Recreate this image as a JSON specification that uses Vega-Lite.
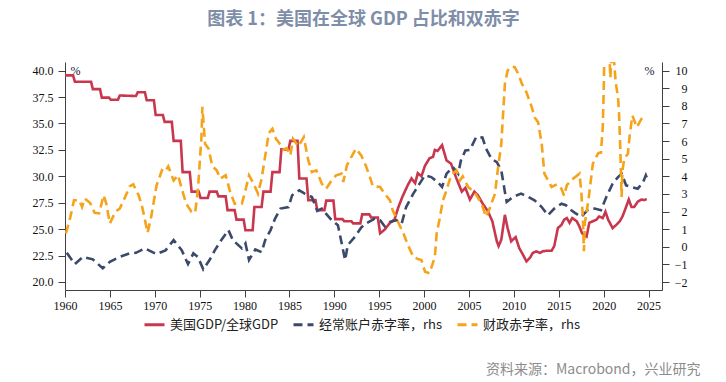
{
  "$schema": "https://vega.github.io/schema/vega-lite/v6.json",
  "width": 597,
  "height": 228,
  "autosize": "none",
  "padding": {"left": 65, "top": 62, "right": 64, "bottom": 92},
  "title": {
    "text": "图表 1：美国在全球 GDP 占比和双赤字",
    "anchor": "middle",
    "font": "Noto Sans CJK SC",
    "fontSize": 18,
    "fontWeight": "bold",
    "color": "#7f8ea8",
    "offset": 33
  },
  "datasets": {
    "gdp": [
      {"s": "美国GDP/全球GDP", "t": 1960.0, "v": 39.55},
      {"s": "美国GDP/全球GDP", "t": 1960.9, "v": 39.55},
      {"s": "美国GDP/全球GDP", "t": 1961.1, "v": 38.95},
      {"s": "美国GDP/全球GDP", "t": 1962.9, "v": 38.95},
      {"s": "美国GDP/全球GDP", "t": 1963.1, "v": 38.25},
      {"s": "美国GDP/全球GDP", "t": 1963.9, "v": 38.25},
      {"s": "美国GDP/全球GDP", "t": 1964.1, "v": 37.45},
      {"s": "美国GDP/全球GDP", "t": 1964.9, "v": 37.45},
      {"s": "美国GDP/全球GDP", "t": 1965.1, "v": 37.25},
      {"s": "美国GDP/全球GDP", "t": 1965.9, "v": 37.25},
      {"s": "美国GDP/全球GDP", "t": 1966.1, "v": 37.65},
      {"s": "美国GDP/全球GDP", "t": 1967.9, "v": 37.6},
      {"s": "美国GDP/全球GDP", "t": 1968.1, "v": 37.95},
      {"s": "美国GDP/全球GDP", "t": 1968.9, "v": 37.95},
      {"s": "美国GDP/全球GDP", "t": 1969.1, "v": 37.2},
      {"s": "美国GDP/全球GDP", "t": 1969.9, "v": 37.2},
      {"s": "美国GDP/全球GDP", "t": 1970.1, "v": 35.8},
      {"s": "美国GDP/全球GDP", "t": 1970.9, "v": 35.8},
      {"s": "美国GDP/全球GDP", "t": 1971.1, "v": 35.15},
      {"s": "美国GDP/全球GDP", "t": 1971.9, "v": 35.15},
      {"s": "美国GDP/全球GDP", "t": 1972.1, "v": 33.35},
      {"s": "美国GDP/全球GDP", "t": 1972.9, "v": 33.35},
      {"s": "美国GDP/全球GDP", "t": 1973.1, "v": 30.4},
      {"s": "美国GDP/全球GDP", "t": 1973.9, "v": 30.4},
      {"s": "美国GDP/全球GDP", "t": 1974.1, "v": 28.55},
      {"s": "美国GDP/全球GDP", "t": 1974.9, "v": 28.55},
      {"s": "美国GDP/全球GDP", "t": 1975.1, "v": 27.95},
      {"s": "美国GDP/全球GDP", "t": 1975.9, "v": 27.95},
      {"s": "美国GDP/全球GDP", "t": 1976.1, "v": 28.55},
      {"s": "美国GDP/全球GDP", "t": 1976.9, "v": 28.55},
      {"s": "美国GDP/全球GDP", "t": 1977.1, "v": 28.1},
      {"s": "美国GDP/全球GDP", "t": 1977.9, "v": 28.1},
      {"s": "美国GDP/全球GDP", "t": 1978.1, "v": 26.8},
      {"s": "美国GDP/全球GDP", "t": 1978.9, "v": 26.8},
      {"s": "美国GDP/全球GDP", "t": 1979.1, "v": 25.9},
      {"s": "美国GDP/全球GDP", "t": 1979.9, "v": 25.9},
      {"s": "美国GDP/全球GDP", "t": 1980.1, "v": 24.9},
      {"s": "美国GDP/全球GDP", "t": 1980.9, "v": 24.9},
      {"s": "美国GDP/全球GDP", "t": 1981.1, "v": 27.1},
      {"s": "美国GDP/全球GDP", "t": 1981.9, "v": 27.1},
      {"s": "美国GDP/全球GDP", "t": 1982.1, "v": 28.55},
      {"s": "美国GDP/全球GDP", "t": 1982.9, "v": 28.55},
      {"s": "美国GDP/全球GDP", "t": 1983.1, "v": 30.4},
      {"s": "美国GDP/全球GDP", "t": 1983.9, "v": 30.4},
      {"s": "美国GDP/全球GDP", "t": 1984.1, "v": 32.55},
      {"s": "美国GDP/全球GDP", "t": 1984.9, "v": 32.55},
      {"s": "美国GDP/全球GDP", "t": 1985.1, "v": 33.35},
      {"s": "美国GDP/全球GDP", "t": 1985.9, "v": 33.35},
      {"s": "美国GDP/全球GDP", "t": 1986.1, "v": 29.8},
      {"s": "美国GDP/全球GDP", "t": 1986.9, "v": 29.8},
      {"s": "美国GDP/全球GDP", "t": 1987.1, "v": 27.75},
      {"s": "美国GDP/全球GDP", "t": 1987.9, "v": 27.75},
      {"s": "美国GDP/全球GDP", "t": 1988.1, "v": 26.8},
      {"s": "美国GDP/全球GDP", "t": 1988.9, "v": 26.8},
      {"s": "美国GDP/全球GDP", "t": 1989.1, "v": 27.7},
      {"s": "美国GDP/全球GDP", "t": 1989.9, "v": 27.7},
      {"s": "美国GDP/全球GDP", "t": 1990.1, "v": 25.95},
      {"s": "美国GDP/全球GDP", "t": 1990.9, "v": 25.95},
      {"s": "美国GDP/全球GDP", "t": 1991.1, "v": 25.75},
      {"s": "美国GDP/全球GDP", "t": 1991.9, "v": 25.75},
      {"s": "美国GDP/全球GDP", "t": 1992.1, "v": 25.55},
      {"s": "美国GDP/全球GDP", "t": 1992.9, "v": 25.55},
      {"s": "美国GDP/全球GDP", "t": 1993.1, "v": 26.4},
      {"s": "美国GDP/全球GDP", "t": 1993.9, "v": 26.4},
      {"s": "美国GDP/全球GDP", "t": 1994.1, "v": 26.1},
      {"s": "美国GDP/全球GDP", "t": 1994.85, "v": 26.1},
      {"s": "美国GDP/全球GDP", "t": 1995.1, "v": 24.6},
      {"s": "美国GDP/全球GDP", "t": 1995.6, "v": 24.95},
      {"s": "美国GDP/全球GDP", "t": 1996.2, "v": 25.6},
      {"s": "美国GDP/全球GDP", "t": 1996.7, "v": 25.9},
      {"s": "美国GDP/全球GDP", "t": 1997.1, "v": 27.0},
      {"s": "美国GDP/全球GDP", "t": 1997.6, "v": 28.1},
      {"s": "美国GDP/全球GDP", "t": 1998.2, "v": 29.2},
      {"s": "美国GDP/全球GDP", "t": 1998.6, "v": 29.8},
      {"s": "美国GDP/全球GDP", "t": 1999.0, "v": 29.35},
      {"s": "美国GDP/全球GDP", "t": 1999.3, "v": 30.3},
      {"s": "美国GDP/全球GDP", "t": 1999.7, "v": 30.0},
      {"s": "美国GDP/全球GDP", "t": 2000.1, "v": 31.0},
      {"s": "美国GDP/全球GDP", "t": 2000.6, "v": 31.7},
      {"s": "美国GDP/全球GDP", "t": 2001.0, "v": 31.85},
      {"s": "美国GDP/全球GDP", "t": 2001.2, "v": 32.5},
      {"s": "美国GDP/全球GDP", "t": 2001.5, "v": 32.4},
      {"s": "美国GDP/全球GDP", "t": 2002.0, "v": 32.95},
      {"s": "美国GDP/全球GDP", "t": 2002.5, "v": 31.5},
      {"s": "美国GDP/全球GDP", "t": 2003.0, "v": 31.2},
      {"s": "美国GDP/全球GDP", "t": 2003.6, "v": 29.8},
      {"s": "美国GDP/全球GDP", "t": 2004.2, "v": 28.55},
      {"s": "美国GDP/全球GDP", "t": 2004.6, "v": 28.9},
      {"s": "美国GDP/全球GDP", "t": 2005.1, "v": 27.8},
      {"s": "美国GDP/全球GDP", "t": 2005.6, "v": 28.55},
      {"s": "美国GDP/全球GDP", "t": 2006.0, "v": 28.2},
      {"s": "美国GDP/全球GDP", "t": 2006.5, "v": 27.45},
      {"s": "美国GDP/全球GDP", "t": 2007.1, "v": 26.7},
      {"s": "美国GDP/全球GDP", "t": 2007.6, "v": 25.75},
      {"s": "美国GDP/全球GDP", "t": 2008.1, "v": 23.85},
      {"s": "美国GDP/全球GDP", "t": 2008.3, "v": 23.4},
      {"s": "美国GDP/全球GDP", "t": 2008.6, "v": 24.0},
      {"s": "美国GDP/全球GDP", "t": 2009.0, "v": 26.35},
      {"s": "美国GDP/全球GDP", "t": 2009.3, "v": 25.1},
      {"s": "美国GDP/全球GDP", "t": 2009.7, "v": 23.85},
      {"s": "美国GDP/全球GDP", "t": 2010.2, "v": 24.25},
      {"s": "美国GDP/全球GDP", "t": 2010.6, "v": 23.2},
      {"s": "美国GDP/全球GDP", "t": 2011.0, "v": 22.6},
      {"s": "美国GDP/全球GDP", "t": 2011.4, "v": 21.95},
      {"s": "美国GDP/全球GDP", "t": 2011.8, "v": 22.3},
      {"s": "美国GDP/全球GDP", "t": 2012.1, "v": 22.75},
      {"s": "美国GDP/全球GDP", "t": 2012.5, "v": 22.9},
      {"s": "美国GDP/全球GDP", "t": 2012.9, "v": 22.75},
      {"s": "美国GDP/全球GDP", "t": 2013.2, "v": 22.9},
      {"s": "美国GDP/全球GDP", "t": 2013.6, "v": 22.95},
      {"s": "美国GDP/全球GDP", "t": 2014.2, "v": 22.95},
      {"s": "美国GDP/全球GDP", "t": 2014.5, "v": 23.4},
      {"s": "美国GDP/全球GDP", "t": 2014.9, "v": 25.1},
      {"s": "美国GDP/全球GDP", "t": 2015.3, "v": 25.4},
      {"s": "美国GDP/全球GDP", "t": 2015.6, "v": 25.9},
      {"s": "美国GDP/全球GDP", "t": 2015.9, "v": 26.05},
      {"s": "美国GDP/全球GDP", "t": 2016.2, "v": 25.6},
      {"s": "美国GDP/全球GDP", "t": 2016.5, "v": 26.05},
      {"s": "美国GDP/全球GDP", "t": 2017.0, "v": 25.75},
      {"s": "美国GDP/全球GDP", "t": 2017.3, "v": 25.25},
      {"s": "美国GDP/全球GDP", "t": 2017.6, "v": 24.6},
      {"s": "美国GDP/全球GDP", "t": 2018.1, "v": 24.3},
      {"s": "美国GDP/全球GDP", "t": 2018.4, "v": 25.6},
      {"s": "美国GDP/全球GDP", "t": 2018.8, "v": 25.75},
      {"s": "美国GDP/全球GDP", "t": 2019.2, "v": 25.9},
      {"s": "美国GDP/全球GDP", "t": 2019.5, "v": 26.2},
      {"s": "美国GDP/全球GDP", "t": 2019.9, "v": 26.05},
      {"s": "美国GDP/全球GDP", "t": 2020.2, "v": 26.65},
      {"s": "美国GDP/全球GDP", "t": 2020.5, "v": 25.9},
      {"s": "美国GDP/全球GDP", "t": 2021.0, "v": 25.1},
      {"s": "美国GDP/全球GDP", "t": 2021.4, "v": 25.4},
      {"s": "美国GDP/全球GDP", "t": 2021.8, "v": 25.75},
      {"s": "美国GDP/全球GDP", "t": 2022.1, "v": 26.2},
      {"s": "美国GDP/全球GDP", "t": 2022.5, "v": 27.1},
      {"s": "美国GDP/全球GDP", "t": 2022.8, "v": 27.8},
      {"s": "美国GDP/全球GDP", "t": 2023.1, "v": 27.1},
      {"s": "美国GDP/全球GDP", "t": 2023.4, "v": 27.1},
      {"s": "美国GDP/全球GDP", "t": 2023.8, "v": 27.6},
      {"s": "美国GDP/全球GDP", "t": 2024.2, "v": 27.8},
      {"s": "美国GDP/全球GDP", "t": 2024.5, "v": 27.75},
      {"s": "美国GDP/全球GDP", "t": 2024.8, "v": 27.85}
    ],
    "ca": [
      {"s": "经常账户赤字率，rhs", "t": 1960.2, "v": -0.34},
      {"s": "经常账户赤字率，rhs", "t": 1961.1, "v": -0.98},
      {"s": "经常账户赤字率，rhs", "t": 1962.0, "v": -0.57},
      {"s": "经常账户赤字率，rhs", "t": 1963.1, "v": -0.71},
      {"s": "经常账户赤字率，rhs", "t": 1964.2, "v": -1.22},
      {"s": "经常账户赤字率，rhs", "t": 1965.0, "v": -0.85},
      {"s": "经常账户赤字率，rhs", "t": 1966.1, "v": -0.57},
      {"s": "经常账户赤字率，rhs", "t": 1967.2, "v": -0.37},
      {"s": "经常账户赤字率，rhs", "t": 1967.9, "v": -0.34},
      {"s": "经常账户赤字率，rhs", "t": 1968.9, "v": -0.09},
      {"s": "经常账户赤字率，rhs", "t": 1970.2, "v": -0.41},
      {"s": "经常账户赤字率，rhs", "t": 1971.2, "v": -0.2},
      {"s": "经常账户赤字率，rhs", "t": 1972.1, "v": 0.38},
      {"s": "经常账户赤字率，rhs", "t": 1973.0, "v": -0.19},
      {"s": "经常账户赤字率，rhs", "t": 1973.7, "v": -0.98},
      {"s": "经常账户赤字率，rhs", "t": 1974.3, "v": -0.37},
      {"s": "经常账户赤字率，rhs", "t": 1974.8, "v": -0.57},
      {"s": "经常账户赤字率，rhs", "t": 1975.4, "v": -1.28},
      {"s": "经常账户赤字率，rhs", "t": 1976.1, "v": -0.75},
      {"s": "经常账户赤字率，rhs", "t": 1976.7, "v": -0.19},
      {"s": "经常账户赤字率，rhs", "t": 1977.4, "v": 0.38},
      {"s": "经常账户赤字率，rhs", "t": 1978.2, "v": 0.95},
      {"s": "经常账户赤字率，rhs", "t": 1978.7, "v": 0.38},
      {"s": "经常账户赤字率，rhs", "t": 1979.7, "v": -0.09},
      {"s": "经常账户赤字率，rhs", "t": 1980.1, "v": 0.19},
      {"s": "经常账户赤字率，rhs", "t": 1980.5, "v": -0.75},
      {"s": "经常账户赤字率，rhs", "t": 1981.2, "v": -0.15},
      {"s": "经常账户赤字率，rhs", "t": 1981.9, "v": -0.3},
      {"s": "经常账户赤字率，rhs", "t": 1982.3, "v": 0.38},
      {"s": "经常账户赤字率，rhs", "t": 1982.9, "v": 0.95},
      {"s": "经常账户赤字率，rhs", "t": 1983.4, "v": 1.6},
      {"s": "经常账户赤字率，rhs", "t": 1984.0, "v": 2.17},
      {"s": "经常账户赤字率，rhs", "t": 1984.9, "v": 2.26},
      {"s": "经常账户赤字率，rhs", "t": 1985.3, "v": 2.93},
      {"s": "经常账户赤字率，rhs", "t": 1986.1, "v": 3.21},
      {"s": "经常账户赤字率，rhs", "t": 1986.7, "v": 3.02},
      {"s": "经常账户赤字率，rhs", "t": 1987.5, "v": 2.83},
      {"s": "经常账户赤字率，rhs", "t": 1988.1, "v": 2.04},
      {"s": "经常账户赤字率，rhs", "t": 1988.6, "v": 2.17},
      {"s": "经常账户赤字率，rhs", "t": 1989.7, "v": 1.51},
      {"s": "经常账户赤字率，rhs", "t": 1990.4, "v": 1.23},
      {"s": "经常账户赤字率，rhs", "t": 1990.9, "v": 0.0},
      {"s": "经常账户赤字率，rhs", "t": 1991.2, "v": -0.75},
      {"s": "经常账户赤字率，rhs", "t": 1991.5, "v": 0.1},
      {"s": "经常账户赤字率，rhs", "t": 1992.3, "v": 0.57},
      {"s": "经常账户赤字率，rhs", "t": 1993.0, "v": 1.1},
      {"s": "经常账户赤字率，rhs", "t": 1993.6, "v": 1.35},
      {"s": "经常账户赤字率，rhs", "t": 1994.5, "v": 1.6},
      {"s": "经常账户赤字率，rhs", "t": 1995.1, "v": 1.51},
      {"s": "经常账户赤字率，rhs", "t": 1995.6, "v": 1.17},
      {"s": "经常账户赤字率，rhs", "t": 1996.2, "v": 1.41},
      {"s": "经常账户赤字率，rhs", "t": 1996.9, "v": 1.51},
      {"s": "经常账户赤字率，rhs", "t": 1997.5, "v": 1.32},
      {"s": "经常账户赤字率，rhs", "t": 1998.0, "v": 2.26},
      {"s": "经常账户赤字率，rhs", "t": 1998.8, "v": 3.02},
      {"s": "经常账户赤字率，rhs", "t": 1999.5, "v": 3.59},
      {"s": "经常账户赤字率，rhs", "t": 2000.1, "v": 4.06},
      {"s": "经常账户赤字率，rhs", "t": 2000.8, "v": 3.96},
      {"s": "经常账户赤字率，rhs", "t": 2001.5, "v": 3.68},
      {"s": "经常账户赤字率，rhs", "t": 2002.0, "v": 3.4},
      {"s": "经常账户赤字率，rhs", "t": 2002.5, "v": 4.15},
      {"s": "经常账户赤字率，rhs", "t": 2003.2, "v": 4.53},
      {"s": "经常账户赤字率，rhs", "t": 2003.8, "v": 4.15},
      {"s": "经常账户赤字率，rhs", "t": 2004.1, "v": 4.9},
      {"s": "经常账户赤字率，rhs", "t": 2004.6, "v": 5.47},
      {"s": "经常账户赤字率，rhs", "t": 2005.1, "v": 5.5},
      {"s": "经常账户赤字率，rhs", "t": 2005.8, "v": 6.23},
      {"s": "经常账户赤字率，rhs", "t": 2006.5, "v": 6.2},
      {"s": "经常账户赤字率，rhs", "t": 2006.9, "v": 5.57},
      {"s": "经常账户赤字率，rhs", "t": 2007.5, "v": 5.0},
      {"s": "经常账户赤字率，rhs", "t": 2008.1, "v": 4.81},
      {"s": "经常账户赤字率，rhs", "t": 2008.6, "v": 4.34},
      {"s": "经常账户赤字率，rhs", "t": 2009.0, "v": 3.11},
      {"s": "经常账户赤字率，rhs", "t": 2009.2, "v": 2.55},
      {"s": "经常账户赤字率，rhs", "t": 2009.9, "v": 2.83},
      {"s": "经常账户赤字率，rhs", "t": 2010.8, "v": 3.02},
      {"s": "经常账户赤字率，rhs", "t": 2011.6, "v": 2.83},
      {"s": "经常账户赤字率，rhs", "t": 2012.3, "v": 2.64},
      {"s": "经常账户赤字率，rhs", "t": 2013.1, "v": 2.26},
      {"s": "经常账户赤字率，rhs", "t": 2013.8, "v": 1.79},
      {"s": "经常账户赤字率，rhs", "t": 2014.5, "v": 2.17},
      {"s": "经常账户赤字率，rhs", "t": 2015.3, "v": 2.45},
      {"s": "经常账户赤字率，rhs", "t": 2015.8, "v": 2.36},
      {"s": "经常账户赤字率，rhs", "t": 2016.4, "v": 2.08},
      {"s": "经常账户赤字率，rhs", "t": 2016.8, "v": 1.93},
      {"s": "经常账户赤字率，rhs", "t": 2017.5, "v": 1.7},
      {"s": "经常账户赤字率，rhs", "t": 2018.2, "v": 2.08},
      {"s": "经常账户赤字率，rhs", "t": 2019.0, "v": 2.17},
      {"s": "经常账户赤字率，rhs", "t": 2019.7, "v": 2.08},
      {"s": "经常账户赤字率，rhs", "t": 2020.3, "v": 2.83},
      {"s": "经常账户赤字率，rhs", "t": 2021.0, "v": 3.59},
      {"s": "经常账户赤字率，rhs", "t": 2021.6, "v": 3.96},
      {"s": "经常账户赤字率，rhs", "t": 2022.0, "v": 4.15},
      {"s": "经常账户赤字率，rhs", "t": 2022.5, "v": 3.49},
      {"s": "经常账户赤字率，rhs", "t": 2023.1, "v": 3.4},
      {"s": "经常账户赤字率，rhs", "t": 2023.8, "v": 3.3},
      {"s": "经常账户赤字率，rhs", "t": 2024.4, "v": 3.68},
      {"s": "经常账户赤字率，rhs", "t": 2024.7, "v": 4.06},
      {"s": "经常账户赤字率，rhs", "t": 2024.9, "v": 3.8}
    ],
    "fiscal": [
      {"s": "财政赤字率，rhs", "t": 1960.1, "v": 0.76},
      {"s": "财政赤字率，rhs", "t": 1960.6, "v": 1.7},
      {"s": "财政赤字率，rhs", "t": 1961.0, "v": 2.64},
      {"s": "财政赤字率，rhs", "t": 1961.6, "v": 2.64},
      {"s": "财政赤字率，rhs", "t": 1961.9, "v": 2.26},
      {"s": "财政赤字率，rhs", "t": 1962.2, "v": 2.74},
      {"s": "财政赤字率，rhs", "t": 1962.8, "v": 2.49},
      {"s": "财政赤字率，rhs", "t": 1963.3, "v": 1.93},
      {"s": "财政赤字率，rhs", "t": 1963.8, "v": 1.9},
      {"s": "财政赤字率，rhs", "t": 1964.3, "v": 2.93},
      {"s": "财政赤字率，rhs", "t": 1964.6, "v": 2.45},
      {"s": "财政赤字率，rhs", "t": 1965.0, "v": 1.32},
      {"s": "财政赤字率，rhs", "t": 1965.6, "v": 1.98},
      {"s": "财政赤字率，rhs", "t": 1966.1, "v": 2.17},
      {"s": "财政赤字率，rhs", "t": 1966.7, "v": 2.83},
      {"s": "财政赤字率，rhs", "t": 1967.2, "v": 3.43},
      {"s": "财政赤字率，rhs", "t": 1967.6, "v": 3.55},
      {"s": "财政赤字率，rhs", "t": 1968.2, "v": 2.93},
      {"s": "财政赤字率，rhs", "t": 1968.6, "v": 2.26},
      {"s": "财政赤字率，rhs", "t": 1969.2, "v": 0.8},
      {"s": "财政赤字率，rhs", "t": 1969.6, "v": 1.7},
      {"s": "财政赤字率，rhs", "t": 1970.2, "v": 3.49},
      {"s": "财政赤字率，rhs", "t": 1970.8, "v": 4.34},
      {"s": "财政赤字率，rhs", "t": 1971.1, "v": 4.24},
      {"s": "财政赤字率，rhs", "t": 1971.5, "v": 4.57},
      {"s": "财政赤字率，rhs", "t": 1972.1, "v": 3.77},
      {"s": "财政赤字率，rhs", "t": 1972.6, "v": 4.06},
      {"s": "财政赤字率，rhs", "t": 1973.0, "v": 3.3},
      {"s": "财政赤字率，rhs", "t": 1973.5, "v": 2.45},
      {"s": "财政赤字率，rhs", "t": 1974.1, "v": 1.98},
      {"s": "财政赤字率，rhs", "t": 1974.5, "v": 1.93},
      {"s": "财政赤字率，rhs", "t": 1974.8, "v": 3.21},
      {"s": "财政赤字率，rhs", "t": 1975.0, "v": 4.72},
      {"s": "财政赤字率，rhs", "t": 1975.2, "v": 6.23},
      {"s": "财政赤字率，rhs", "t": 1975.3, "v": 7.95},
      {"s": "财政赤字率，rhs", "t": 1975.6, "v": 5.85},
      {"s": "财政赤字率，rhs", "t": 1976.0, "v": 5.57},
      {"s": "财政赤字率，rhs", "t": 1976.4, "v": 4.57},
      {"s": "财政赤字率，rhs", "t": 1976.9, "v": 4.34},
      {"s": "财政赤字率，rhs", "t": 1977.3, "v": 3.87},
      {"s": "财政赤字率，rhs", "t": 1977.9, "v": 4.06},
      {"s": "财政赤字率，rhs", "t": 1978.4, "v": 3.11},
      {"s": "财政赤字率，rhs", "t": 1978.9, "v": 2.45},
      {"s": "财政赤字率，rhs", "t": 1979.7, "v": 2.45},
      {"s": "财政赤字率，rhs", "t": 1980.1, "v": 3.21},
      {"s": "财政赤字率，rhs", "t": 1980.5, "v": 4.06},
      {"s": "财政赤字率，rhs", "t": 1981.0, "v": 3.59},
      {"s": "财政赤字率，rhs", "t": 1981.5, "v": 3.02},
      {"s": "财政赤字率，rhs", "t": 1981.9, "v": 3.87},
      {"s": "财政赤字率，rhs", "t": 1982.4, "v": 5.47},
      {"s": "财政赤字率，rhs", "t": 1982.7, "v": 6.45},
      {"s": "财政赤字率，rhs", "t": 1983.1, "v": 6.7},
      {"s": "财政赤字率，rhs", "t": 1983.5, "v": 6.13},
      {"s": "财政赤字率，rhs", "t": 1983.8, "v": 5.94},
      {"s": "财政赤字率，rhs", "t": 1984.3, "v": 5.51},
      {"s": "财政赤字率，rhs", "t": 1984.7, "v": 5.6},
      {"s": "财政赤字率，rhs", "t": 1985.1, "v": 5.19},
      {"s": "财政赤字率，rhs", "t": 1985.4, "v": 6.13},
      {"s": "财政赤字率，rhs", "t": 1986.0, "v": 5.7},
      {"s": "财政赤字率，rhs", "t": 1986.6, "v": 6.23},
      {"s": "财政赤字率，rhs", "t": 1987.1, "v": 4.9},
      {"s": "财政赤字率，rhs", "t": 1987.5, "v": 4.24},
      {"s": "财政赤字率，rhs", "t": 1988.0, "v": 4.34},
      {"s": "财政赤字率，rhs", "t": 1988.6, "v": 3.59},
      {"s": "财政赤字率，rhs", "t": 1989.1, "v": 3.3},
      {"s": "财政赤字率，rhs", "t": 1989.7, "v": 3.77},
      {"s": "财政赤字率，rhs", "t": 1990.2, "v": 4.06},
      {"s": "财政赤字率，rhs", "t": 1990.8, "v": 4.15},
      {"s": "财政赤字率，rhs", "t": 1991.0, "v": 3.68},
      {"s": "财政赤字率，rhs", "t": 1991.4, "v": 4.62},
      {"s": "财政赤字率，rhs", "t": 1991.9, "v": 5.1},
      {"s": "财政赤字率，rhs", "t": 1992.4, "v": 5.57},
      {"s": "财政赤字率，rhs", "t": 1993.0, "v": 5.19},
      {"s": "财政赤字率，rhs", "t": 1993.5, "v": 4.62},
      {"s": "财政赤字率，rhs", "t": 1993.9, "v": 4.06},
      {"s": "财政赤字率，rhs", "t": 1994.3, "v": 3.43},
      {"s": "财政赤字率，rhs", "t": 1995.1, "v": 3.4},
      {"s": "财政赤字率，rhs", "t": 1995.6, "v": 3.02},
      {"s": "财政赤字率，rhs", "t": 1996.2, "v": 2.64},
      {"s": "财政赤字率，rhs", "t": 1996.5, "v": 2.08},
      {"s": "财政赤字率，rhs", "t": 1997.1, "v": 1.41},
      {"s": "财政赤字率，rhs", "t": 1997.7, "v": 0.76},
      {"s": "财政赤字率，rhs", "t": 1998.2, "v": 0.1},
      {"s": "财政赤字率，rhs", "t": 1998.8, "v": -0.57},
      {"s": "财政赤字率，rhs", "t": 1999.4, "v": -0.71},
      {"s": "财政赤字率，rhs", "t": 1999.7, "v": -0.75},
      {"s": "财政赤字率，rhs", "t": 2000.1, "v": -1.41},
      {"s": "财政赤字率，rhs", "t": 2000.6, "v": -1.5},
      {"s": "财政赤字率，rhs", "t": 2001.2, "v": -0.57},
      {"s": "财政赤字率，rhs", "t": 2001.4, "v": 0.76},
      {"s": "财政赤字率，rhs", "t": 2001.7, "v": 1.51},
      {"s": "财政赤字率，rhs", "t": 2002.1, "v": 2.64},
      {"s": "财政赤字率，rhs", "t": 2002.5, "v": 3.21},
      {"s": "财政赤字率，rhs", "t": 2003.0, "v": 4.06},
      {"s": "财政赤字率，rhs", "t": 2003.6, "v": 4.34},
      {"s": "财政赤字率，rhs", "t": 2004.0, "v": 3.77},
      {"s": "财政赤字率，rhs", "t": 2004.3, "v": 4.0},
      {"s": "财政赤字率，rhs", "t": 2004.9, "v": 3.4},
      {"s": "财政赤字率，rhs", "t": 2005.6, "v": 3.11},
      {"s": "财政赤字率，rhs", "t": 2006.4, "v": 2.45},
      {"s": "财政赤字率，rhs", "t": 2006.9, "v": 1.7},
      {"s": "财政赤字率，rhs", "t": 2007.3, "v": 2.17},
      {"s": "财政赤字率，rhs", "t": 2007.9, "v": 3.02},
      {"s": "财政赤字率，rhs", "t": 2008.2, "v": 4.34},
      {"s": "财政赤字率，rhs", "t": 2008.6, "v": 5.85},
      {"s": "财政赤字率，rhs", "t": 2008.8, "v": 7.55},
      {"s": "财政赤字率，rhs", "t": 2009.0, "v": 9.25},
      {"s": "财政赤字率，rhs", "t": 2009.3, "v": 10.0},
      {"s": "财政赤字率，rhs", "t": 2009.7, "v": 10.23},
      {"s": "财政赤字率，rhs", "t": 2010.1, "v": 10.2},
      {"s": "财政赤字率，rhs", "t": 2010.5, "v": 9.81},
      {"s": "财政赤字率，rhs", "t": 2010.9, "v": 9.25},
      {"s": "财政赤字率，rhs", "t": 2011.4, "v": 8.77},
      {"s": "财政赤字率，rhs", "t": 2012.0, "v": 7.92},
      {"s": "财政赤字率，rhs", "t": 2012.3, "v": 7.36},
      {"s": "财政赤字率，rhs", "t": 2012.7, "v": 7.07},
      {"s": "财政赤字率，rhs", "t": 2013.1, "v": 5.85},
      {"s": "财政赤字率，rhs", "t": 2013.4, "v": 4.15},
      {"s": "财政赤字率，rhs", "t": 2013.8, "v": 3.77},
      {"s": "财政赤字率，rhs", "t": 2014.2, "v": 3.4},
      {"s": "财政赤字率，rhs", "t": 2014.8, "v": 3.55},
      {"s": "财政赤字率，rhs", "t": 2015.3, "v": 3.3},
      {"s": "财政赤字率，rhs", "t": 2015.6, "v": 2.9},
      {"s": "财政赤字率，rhs", "t": 2015.9, "v": 3.5},
      {"s": "财政赤字率，rhs", "t": 2016.6, "v": 3.87},
      {"s": "财政赤字率，rhs", "t": 2017.3, "v": 4.15},
      {"s": "财政赤字率，rhs", "t": 2017.5, "v": 3.21},
      {"s": "财政赤字率，rhs", "t": 2017.7, "v": 1.51},
      {"s": "财政赤字率，rhs", "t": 2017.8, "v": -0.25},
      {"s": "财政赤字率，rhs", "t": 2017.9, "v": 1.32},
      {"s": "财政赤字率，rhs", "t": 2018.3, "v": 2.64},
      {"s": "财政赤字率，rhs", "t": 2018.8, "v": 4.72},
      {"s": "财政赤字率，rhs", "t": 2019.4, "v": 5.32},
      {"s": "财政赤字率，rhs", "t": 2019.7, "v": 5.35},
      {"s": "财政赤字率，rhs", "t": 2019.9, "v": 6.79},
      {"s": "财政赤字率，rhs", "t": 2020.0, "v": 8.68},
      {"s": "财政赤字率，rhs", "t": 2020.1, "v": 11.5},
      {"s": "财政赤字率，rhs", "t": 2020.4, "v": 14.0},
      {"s": "财政赤字率，rhs", "t": 2020.65, "v": 10.8},
      {"s": "财政赤字率，rhs", "t": 2020.75, "v": 9.6},
      {"s": "财政赤字率，rhs", "t": 2020.9, "v": 11.0},
      {"s": "财政赤字率，rhs", "t": 2021.15, "v": 10.6},
      {"s": "财政赤字率，rhs", "t": 2021.35, "v": 9.3},
      {"s": "财政赤字率，rhs", "t": 2021.6, "v": 8.5},
      {"s": "财政赤字率，rhs", "t": 2021.7, "v": 7.74},
      {"s": "财政赤字率，rhs", "t": 2021.85, "v": 5.66},
      {"s": "财政赤字率，rhs", "t": 2022.0, "v": 2.83},
      {"s": "财政赤字率，rhs", "t": 2022.1, "v": 4.34},
      {"s": "财政赤字率，rhs", "t": 2022.3, "v": 5.0},
      {"s": "财政赤字率，rhs", "t": 2022.7, "v": 5.28},
      {"s": "财政赤字率，rhs", "t": 2022.9, "v": 6.32},
      {"s": "财政赤字率，rhs", "t": 2023.2, "v": 7.45},
      {"s": "财政赤字率，rhs", "t": 2023.7, "v": 6.79},
      {"s": "财政赤字率，rhs", "t": 2024.2, "v": 7.26},
      {"s": "财政赤字率，rhs", "t": 2024.7, "v": 7.36}
    ]
  },
  "encoding": {
    "x": {
      "field": "t",
      "type": "quantitative",
      "scale": {"domain": [1960, 2026.5], "nice": false, "zero": false},
      "axis": {
        "values": [1960, 1965, 1970, 1975, 1980, 1985, 1990, 1995, 2000, 2005, 2010, 2015, 2020, 2025],
        "format": "d",
        "labelFlush": false,
        "labelOverlap": false,
        "labelPadding": 3,
        "title": "资料来源：Macrobond，兴业研究",
        "titleFont": "Noto Sans CJK SC",
        "titleFontSize": 14,
        "titleFontWeight": "normal",
        "titleColor": "#8c8c8c",
        "titleX": 635,
        "titleY": 79,
        "titleAlign": "right",
        "titleBaseline": "middle"
      }
    },
    "color": {
      "field": "s",
      "type": "nominal",
      "scale": {
        "domain": ["美国GDP/全球GDP", "经常账户赤字率，rhs", "财政赤字率，rhs"],
        "range": ["#c8374d", "#3b4a6b", "#f5a31a"]
      },
      "legend": {"title": null}
    },
    "strokeDash": {
      "field": "s",
      "type": "nominal",
      "scale": {
        "domain": ["美国GDP/全球GDP", "经常账户赤字率，rhs", "财政赤字率，rhs"],
        "range": [[1, 0], [9, 5], [9, 5]]
      },
      "legend": {"title": null}
    }
  },
  "layer": [
    {
      "data": {"name": "gdp"},
      "mark": {"type": "line", "strokeWidth": 2.6, "clip": true},
      "encoding": {
        "y": {
          "field": "v",
          "type": "quantitative",
          "scale": {"domain": [19.24, 40.82], "nice": false, "zero": false},
          "axis": {
            "orient": "left",
            "values": [20, 22.5, 25, 27.5, 30, 32.5, 35, 37.5, 40],
            "format": ".1f",
            "labelPadding": 5,
            "labelFlush": false,
            "title": "%",
            "titleAngle": 0,
            "titleX": 5,
            "titleY": 8,
            "titleAlign": "left",
            "titleBaseline": "middle",
            "titleFont": "Liberation Serif",
            "titleFontSize": 12,
            "titleFontWeight": "normal",
            "titleColor": "#1a1a3a"
          }
        }
      }
    },
    {
      "encoding": {
        "y": {
          "field": "v",
          "type": "quantitative",
          "scale": {"domain": [-2.45, 10.49], "nice": false, "zero": false},
          "axis": {
            "orient": "right",
            "values": [-2, -1, 0, 1, 2, 3, 4, 5, 6, 7, 8, 9, 10],
            "format": "d",
            "labelAlign": "right",
            "labelPadding": 18,
            "labelFlush": false,
            "title": "%",
            "titleAngle": 0,
            "titleX": -8,
            "titleY": 8,
            "titleAlign": "right",
            "titleBaseline": "middle",
            "titleFont": "Liberation Serif",
            "titleFontSize": 12,
            "titleFontWeight": "normal",
            "titleColor": "#1a1a3a"
          }
        }
      },
      "layer": [
        {
          "data": {"name": "ca"},
          "mark": {"type": "line", "strokeWidth": 2.6, "clip": true}
        },
        {
          "data": {"name": "fiscal"},
          "mark": {"type": "line", "strokeWidth": 2.6, "clip": true}
        }
      ]
    }
  ],
  "resolve": {"scale": {"y": "independent"}},
  "config": {
    "view": {"stroke": null},
    "axis": {
      "grid": false,
      "domainColor": "#404040",
      "tickColor": "#404040",
      "tickSize": 7,
      "labelFont": "Liberation Serif",
      "labelFontSize": 12,
      "labelColor": "#111111"
    },
    "legend": {
      "orient": "none",
      "legendX": 78,
      "legendY": 251,
      "direction": "horizontal",
      "symbolType": "stroke",
      "symbolSize": 400,
      "symbolStrokeWidth": 3,
      "labelFont": "Noto Sans CJK SC",
      "labelFontSize": 13,
      "labelColor": "#222222",
      "labelOffset": 4,
      "columnPadding": 8
    }
  }
}
